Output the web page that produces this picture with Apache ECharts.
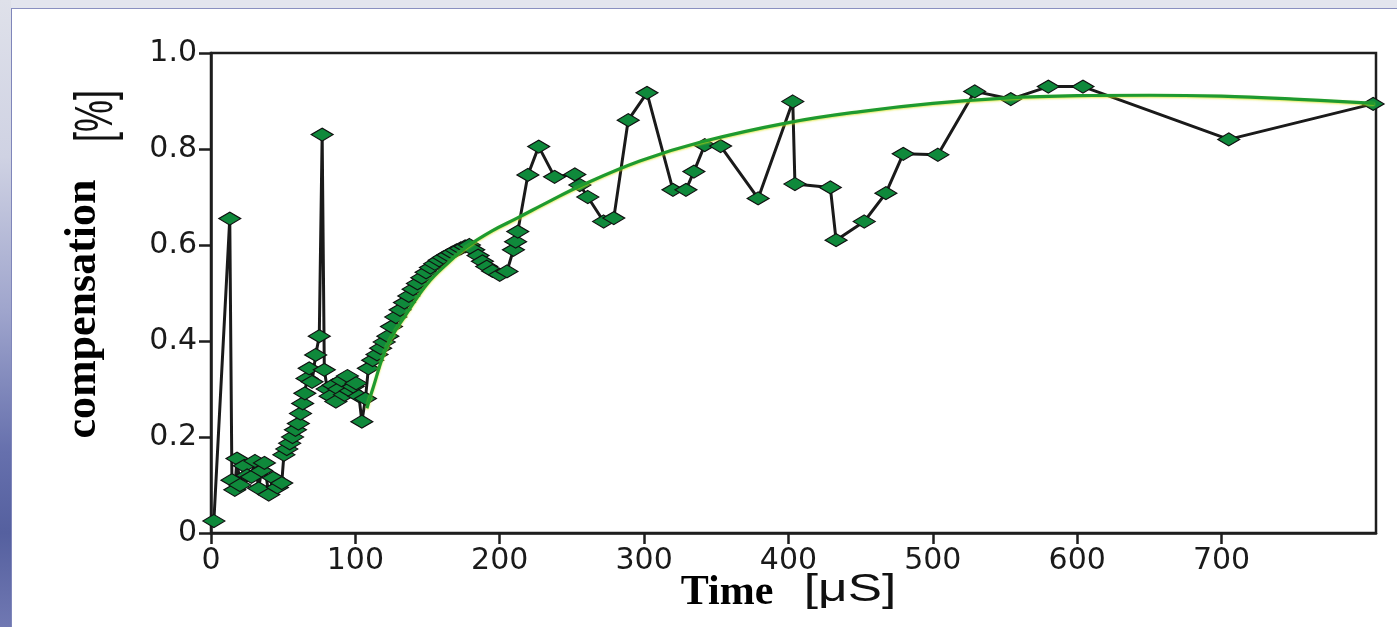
<!DOCTYPE html>
<html>
<head>
<meta charset="utf-8">
<script src="https://cdn.jsdelivr.net/npm/echarts@6/dist/echarts.min.js"></script>
<style>
html,body{margin:0;padding:0;width:1397px;height:627px;overflow:hidden;background:#e3e5ee;}
#strip{position:absolute;left:0;top:0;width:11px;height:627px;
 background:linear-gradient(to bottom,#dfe1ea 0%,#cfd2e3 25%,#9ea4cc 50%,#6670ad 72%,#55609f 85%,#7078b2 100%);}
#panel{position:absolute;left:11px;top:8px;right:0;bottom:0;background:#ffffff;border-left:1px solid #7f86ba;border-top:1px solid #8a90c0;}
#chart{position:absolute;left:0;top:0;width:1397px;height:627px;}
</style>
</head>
<body>
<div id="strip"></div>
<div id="panel"></div>
<div id="chart"></div>
<script>
// ---- data ----
const timeValues = [2, 13, 14.5, 16.5, 18, 20, 23, 25, 28, 30.5, 33, 35, 37, 40, 43, 46, 49, 50.5, 52.5, 54.5, 56.5, 58.5, 60.5, 62, 63.5, 65, 66.5, 68, 70, 72.5, 75, 77, 78.5, 80.5, 82.5, 84.5, 86.5, 88.5, 90.5, 92.5, 94.5, 96.5, 98.5, 100.5, 102.5, 104.5, 107, 109, 112, 115, 117.5, 120, 122.5, 125, 128, 131, 134, 137, 140, 143, 146, 149, 152, 155, 158, 161, 164, 167, 170, 173, 176, 179, 182, 185, 188, 191, 195, 200, 205, 209.5, 211, 212.5, 219.5, 227, 238, 252, 255.5, 261, 272, 279, 289, 302, 320, 329, 334.5, 342, 353, 379, 403, 404.5, 429, 433, 452.5, 467.5, 479.5, 503.5, 529, 554, 580, 604, 705, 805];
const compensationValues = [0.025, 0.655, 0.11, 0.09, 0.155, 0.1, 0.14, 0.12, 0.117, 0.15, 0.093, 0.13, 0.146, 0.08, 0.115, 0.095, 0.104, 0.163, 0.175, 0.187, 0.2, 0.215, 0.228, 0.249, 0.27, 0.291, 0.322, 0.343, 0.315, 0.371, 0.41, 0.83, 0.34, 0.3, 0.285, 0.308, 0.274, 0.3, 0.318, 0.288, 0.327, 0.296, 0.305, 0.312, 0.285, 0.232, 0.28, 0.343, 0.36, 0.372, 0.385, 0.398, 0.41, 0.43, 0.45, 0.465, 0.48, 0.494, 0.508, 0.52, 0.532, 0.543, 0.553, 0.561, 0.568, 0.574, 0.579, 0.584, 0.589, 0.593, 0.597, 0.6, 0.59, 0.578, 0.566, 0.555, 0.546, 0.538, 0.545, 0.59, 0.607, 0.628, 0.746, 0.805, 0.742, 0.747, 0.725, 0.7, 0.649, 0.656, 0.86, 0.917, 0.715, 0.715, 0.753, 0.808, 0.806, 0.697, 0.899, 0.727, 0.72, 0.61, 0.649, 0.708, 0.79, 0.788, 0.92, 0.904, 0.93, 0.93, 0.82, 0.894];
const fitTime   = [108, 112, 122, 135, 150, 165, 177, 195, 212, 235, 255, 297, 340, 400, 450, 500, 550, 600, 650, 700, 750, 806];
const fitValues = [0.26, 0.30, 0.39, 0.455, 0.52, 0.565, 0.596, 0.63, 0.656, 0.692, 0.722, 0.775, 0.815, 0.855, 0.878, 0.895, 0.906, 0.911, 0.912, 0.91, 0.904, 0.895];
const xTickValues = [0, 100, 200, 300, 400, 500, 600, 700];
const yTickLabels = ['0', '0.2', '0.4', '0.6', '0.8', '1.0'];
const xAxisMax = 807;

const measured = timeValues.map((t, i) => [t, compensationValues[i]]);
const fitted = fitTime.map((t, i) => [t, fitValues[i]]);

const chart = echarts.init(document.getElementById('chart'), null, {renderer: 'canvas'});
const labelFont = '"DejaVu Sans", sans-serif';
chart.setOption({
  backgroundColor: 'transparent',
  animation: false,
  grid: {left: 211, right: 21, top: 53, bottom: 94, show: true, borderColor: '#1e1e1e', borderWidth: 2.5, backgroundColor: 'transparent'},
  xAxis: {
    type: 'value', min: 0, max: xAxisMax, interval: 100,
    splitLine: {show: false},
    axisLine: {show: true, onZero: false, lineStyle: {color: '#1e1e1e', width: 2.5}},
    axisTick: {show: true, inside: false, length: 11, customValues: xTickValues, lineStyle: {color: '#1e1e1e', width: 2.5}},
    axisLabel: {customValues: xTickValues, fontSize: 30, fontFamily: labelFont, color: '#1a1a1a', margin: 13,
      formatter: v => String(v)}
  },
  yAxis: {
    type: 'value', min: 0, max: 1, interval: 0.2,
    splitLine: {show: false},
    axisLine: {show: true, onZero: false, lineStyle: {color: '#1e1e1e', width: 2.5}},
    axisTick: {show: true, inside: false, length: 12, lineStyle: {color: '#1e1e1e', width: 2.5}},
    axisLabel: {fontSize: 30, fontFamily: labelFont, color: '#1a1a1a', margin: 14,
      formatter: v => yTickLabels[Math.round(v / 0.2)]}
  },
  series: [
    {
      type: 'line', data: measured, z: 3,
      symbol: 'diamond', symbolSize: [22, 13], showSymbol: true,
      lineStyle: {color: '#1a1a1a', width: 3},
      itemStyle: {color: '#0f893b', borderColor: '#111', borderWidth: 1.2}
    },
    {
      type: 'line', data: fitted, z: 5, smooth: 0.4, symbol: 'none',
      lineStyle: {color: '#1e9a30', width: 3.2, shadowColor: 'rgba(215,225,20,0.7)', shadowBlur: 2, shadowOffsetY: 1}
    }
  ],
  graphic: [
    {type: 'text', x: 84, y: 309, rotation: Math.PI / 2, z: 10,
     style: {text: 'compensation', font: 'bold 44px "Liberation Serif", serif', fill: '#000',
       align: 'center', verticalAlign: 'middle', textAlign: 'center', textVerticalAlign: 'middle'}},
    {type: 'text', x: 97, y: 116, rotation: Math.PI / 2, scaleY: 1.5, z: 10,
     style: {text: '[%]', font: '36px "Liberation Sans", sans-serif', fill: '#111',
       align: 'center', verticalAlign: 'middle', textAlign: 'center', textVerticalAlign: 'middle'}},
    {type: 'text', x: 727, y: 593, z: 10,
     style: {text: 'Time', font: 'bold 42px "Liberation Serif", serif', fill: '#000',
       align: 'center', verticalAlign: 'middle', textAlign: 'center', textVerticalAlign: 'middle'}},
    {type: 'text', x: 850, y: 591, scaleX: 1.35, z: 10,
     style: {text: '[\u03bcS]', font: '38px "Liberation Sans", sans-serif', fill: '#111',
       align: 'center', verticalAlign: 'middle', textAlign: 'center', textVerticalAlign: 'middle'}}
  ]
});
</script>
</body>
</html>
